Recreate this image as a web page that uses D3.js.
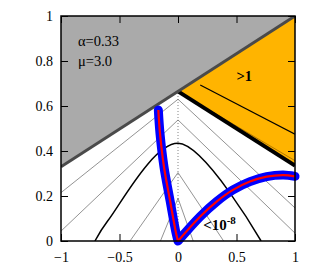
<!DOCTYPE html>
<html>
<head>
<meta charset="utf-8">
<script src="https://cdn.jsdelivr.net/npm/d3@7"></script>
<style>
body { margin: 0; background: #fff; }
text { font-family: "Liberation Serif", "Times New Roman", serif; fill: #000; }
</style>
</head>
<body>
<div id="chart"></div>
<script>
// Tick values on both axes
var xTicks = [-1, -0.5, 0, 0.5, 1];
var yTicks = [0, 0.2, 0.4, 0.6, 0.8, 1];

// Gray region in the upper left and its edge
var grayRegion = [[-1, 0.33], [-1, 1], [1, 1]];
var grayEdge = [[-1, 0.33], [1, 1]];

// Orange region (">1") and its lines
var orangeRegion = [[0, 0.665], [1, 1], [1, 0.335]];
var orangeEdge = [[0, 0.665], [1, 0.335]];
var orangeThin = [[0.04, 0.652], [1, 0.357]];
var orangeContour = [[0.19, 0.693], [1, 0.475]];

// Contour chevrons with apex on x = 0
var thinContours = [
    [[-1, 0.215], [0, 0.63], [1, 0.147]],
    [[-1, 0.044], [0, 0.538], [1, 0.035]],
    [[-0.41, 0], [0, 0.304], [0.39, 0]],
    [[-0.15, 0], [0, 0.19], [0.13, 0]]
];
var boldContour = [[-0.71, 0], [-0.6, 0.09], [0, 0.434], [0.71, 0]];
var dottedLine = [[0, 0], [0, 0.665]];

// Trajectory: left branch (top to origin) and right branch (origin to x = 1)
var leftX = [-0.168, -0.154, -0.12, -0.068, -0.017, 0];
var leftY = [0.582, 0.479, 0.33, 0.18, 0.036, 0];
var rightX = [0, 0.188, 0.33, 0.47, 0.615, 0.758, 0.9, 1];
var rightY = [0, 0.108, 0.175, 0.227, 0.264, 0.286, 0.293, 0.287];

var svgWidth = 316;
var svgHeight = 271;
var margin = { top: 16, right: 21, bottom: 30, left: 61 };
var chartWidth = svgWidth - margin.left - margin.right;
var chartHeight = svgHeight - margin.top - margin.bottom;

var svg = d3.select("#chart").append("svg")
    .attr("width", svgWidth)
    .attr("height", svgHeight);

var chartGroup = svg.append("g")
    .attr("transform", `translate(${margin.left}, ${margin.top})`);

var xScale = d3.scaleLinear().domain([-1, 1]).range([0, chartWidth]);
var yScale = d3.scaleLinear().domain([0, 1]).range([chartHeight, 0]);

var line = d3.line().x(d => xScale(d[0])).y(d => yScale(d[1]));
var smooth = d3.line().x(d => xScale(d[0])).y(d => yScale(d[1])).curve(d3.curveCatmullRom);

chartGroup.append("clipPath").attr("id", "clip")
    .append("rect").attr("width", chartWidth).attr("height", chartHeight);

var plot = chartGroup.append("g").attr("clip-path", "url(#clip)");

// contours
plot.selectAll(".thin")
    .data(thinContours)
    .enter()
    .append("path")
    .attr("d", line)
    .attr("fill", "none")
    .attr("stroke", "#777")
    .attr("stroke-width", 0.8);

plot.append("path")
    .attr("d", smooth(boldContour))
    .attr("fill", "none")
    .attr("stroke", "#000")
    .attr("stroke-width", 1.5);

plot.append("path")
    .attr("d", line(dottedLine))
    .attr("fill", "none")
    .attr("stroke", "#666")
    .attr("stroke-width", 0.8)
    .attr("stroke-dasharray", "1,2");

// colored regions
plot.append("path")
    .attr("d", line(grayRegion) + "Z")
    .attr("fill", "#aaaaaa");

plot.append("path")
    .attr("d", line(orangeRegion) + "Z")
    .attr("fill", "#ffb400");

plot.append("path")
    .attr("d", line(orangeContour))
    .attr("stroke", "#000")
    .attr("stroke-width", 1.2);

plot.append("path")
    .attr("d", line(orangeThin))
    .attr("stroke", "#a06a00")
    .attr("stroke-width", 0.8);

plot.append("path")
    .attr("d", line(orangeEdge))
    .attr("stroke", "#000")
    .attr("stroke-width", 4);

plot.append("path")
    .attr("d", line(grayEdge))
    .attr("stroke", "#4a4a4a")
    .attr("stroke-width", 3);

// axes with inward ticks
chartGroup.append("g")
    .attr("transform", `translate(0, ${chartHeight})`)
    .call(d3.axisBottom(xScale).tickValues(xTicks).tickSizeInner(-7).tickSizeOuter(0).tickPadding(11).tickFormat(d3.format("")))
    .call(g => g.select(".domain").remove());
chartGroup.append("g")
    .call(d3.axisTop(xScale).tickValues(xTicks).tickSizeInner(-7).tickSizeOuter(0).tickFormat(""))
    .call(g => g.select(".domain").remove());
chartGroup.append("g")
    .call(d3.axisLeft(yScale).tickValues(yTicks).tickSizeInner(-7).tickSizeOuter(0).tickPadding(8).tickFormat(d3.format("")))
    .call(g => g.select(".domain").remove());
chartGroup.append("g")
    .attr("transform", `translate(${chartWidth}, 0)`)
    .call(d3.axisRight(yScale).tickValues(yTicks).tickSizeInner(-7).tickSizeOuter(0).tickFormat(""))
    .call(g => g.select(".domain").remove());

chartGroup.selectAll(".tick line").attr("stroke", "#000").attr("stroke-width", 1);
chartGroup.selectAll(".tick text")
    .attr("font-family", "Liberation Serif")
    .attr("font-size", 14);

// trajectory on top, not clipped
var trajPath = smooth(d3.zip(leftX, leftY)) + smooth(d3.zip(rightX, rightY));
chartGroup.append("path")
    .attr("d", trajPath)
    .attr("fill", "none")
    .attr("stroke", "#0000ff")
    .attr("stroke-width", 9)
    .attr("stroke-linecap", "round")
    .attr("stroke-linejoin", "round");
chartGroup.append("path")
    .attr("d", trajPath)
    .attr("fill", "none")
    .attr("stroke", "#ff0000")
    .attr("stroke-width", 2.2);

// frame
chartGroup.append("rect")
    .attr("width", chartWidth)
    .attr("height", chartHeight)
    .attr("fill", "none")
    .attr("stroke", "#000")
    .attr("stroke-width", 1.5);

// labels
chartGroup.append("text")
    .attr("x", xScale(-0.855))
    .attr("y", yScale(0.865))
    .attr("font-size", 14.5)
    .text("α=0.33");
chartGroup.append("text")
    .attr("x", xScale(-0.855))
    .attr("y", yScale(0.78))
    .attr("font-size", 14.5)
    .text("μ=3.0");
chartGroup.append("text")
    .attr("x", xScale(0.5))
    .attr("y", yScale(0.712))
    .attr("font-size", 14.5)
    .attr("font-weight", "bold")
    .text(">1");
var small = chartGroup.append("text")
    .attr("x", xScale(0.215))
    .attr("y", yScale(0.05))
    .attr("font-size", 15)
    .attr("font-weight", "bold");
small.append("tspan").text("<10");
small.append("tspan").attr("dy", -6).attr("font-size", 11).text("-8");
</script>
</body>
</html>
